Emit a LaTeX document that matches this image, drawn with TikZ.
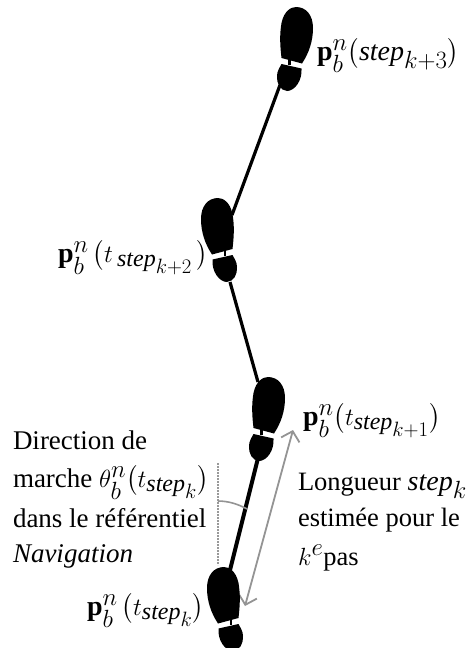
\documentclass[tikz,border=0pt]{standalone}
\usepackage{amsmath}
\usepackage{fontspec}
\setmainfont{Liberation Serif}
\usetikzlibrary{arrows.meta}
\DeclareMathSizes{27}{28}{24}{20}
\DeclareMathSizes{26.5}{28}{24}{20}
\newcommand{\stp}{\mathit{step}}
\tikzset{
  x=1pt,y=-1pt,
  walk/.style={line width=3.2pt,black},
  walkthick/.style={line width=4pt,black},
  grey arrow/.style={line width=1.8pt,draw=black!42,{Straight Barb[length=9pt,width=19pt,line width=1.8pt]}-{Straight Barb[length=9pt,width=19pt,line width=1.8pt]}},
  refline/.style={line width=2pt,draw=black!40,densely dotted},
  anglearc/.style={line width=1.6pt,draw=black!42},
  lab/.style={anchor=base west,inner sep=0pt,outer sep=0pt,font=\fontsize{27}{31}\selectfont},
  labr/.style={anchor=base west,inner sep=0pt,outer sep=0pt,font=\fontsize{26.5}{31}\selectfont},
  eq/.style={anchor=base west,inner sep=0pt,outer sep=0pt,font=\fontsize{27}{31}\selectfont},
  footprint/.pic={
    \fill[black] (-15.5,23) .. controls (-17,10) and (-17.5,0) .. (-15.5,-12)
      .. controls (-13,-24) and (-6,-28) .. (-1,-28)
      .. controls (9,-28) and (16,-20) .. (16,-7)
      .. controls (16,6) and (12,18) .. (5,28.5) -- cycle;
    \fill[black] (-9,24) rectangle (-6.5,30);
    \fill[black] (-15.5,29) -- (4.5,33.5)
      .. controls (5.5,45) and (-2,56) .. (-10,56)
      .. controls (-17,55.5) and (-20.5,48) .. (-20,41)
      .. controls (-20,36) and (-17,32) .. (-15.5,29) -- cycle;
  }
}
\begin{document}
\begin{tikzpicture}
\useasboundingbox (0,0) rectangle (467,648);
\coordinate (h1) at (280,85);
\coordinate (s2) at (232,215);
\coordinate (h2) at (230,282);
\coordinate (s3) at (258,382);
\coordinate (h3) at (258,458);
\coordinate (s4) at (230,570);
\coordinate (atop) at (293,430);
\coordinate (abot) at (245,606);
\coordinate (vtop) at (218,463);
\coordinate (vbot) at (218,565);
\coordinate (arcA) at (218,501);
\coordinate (arcB) at (247,509);
\draw[walk] (h1) -- (s2);
\draw[walk] (h2) -- (s3);
\draw[walkthick] (h3) -- (s4);
\draw[refline] (vtop) -- (vbot);
\draw[anglearc] (arcA) .. controls (228,501) and (238,504) .. (arcB);
\draw[grey arrow] (abot) -- (atop);
\pic at (297,35) {footprint};
\pic[xscale=-1] at (217,226) {footprint};
\pic at (269,405) {footprint};
\pic[xscale=-1] at (223,595) {footprint};
\node[eq] (p3) at (317,60) {$\mathbf{p}_b^n\bigl(\stp_{k+3}\bigr)$};
\node[eq] (p2) at (58,262) {$\mathbf{p}_b^n\,\bigl(t\,_{\stp_{k+2}}\,\bigr)$};
\node[eq] (p1) at (303,425) {$\mathbf{p}_b^n\bigl(t_{\stp_{k+1}}\bigr)$};
\node[eq] (p0) at (87,615) {$\mathbf{p}_b^n\,\bigl(t_{\stp_{k}}\bigr)$};
\node[lab] (d1) at (13,449) {Direction de};
\node[lab] (d2) at (13,487) {marche $\theta_b^n\bigl(t_{\stp_k}\bigr)$};
\node[lab] (d3) at (13,527) {dans le référentiel};
\node[lab] (d4) at (13,562) {\itshape Navigation};
\node[labr] (l1) at (298,490) {Longueur $\stp_k$};
\node[labr] (l2) at (298,526) {estimée pour le};
\node[labr] (l3) at (298,565) {$k^e$pas};
\end{tikzpicture}
\end{document}
